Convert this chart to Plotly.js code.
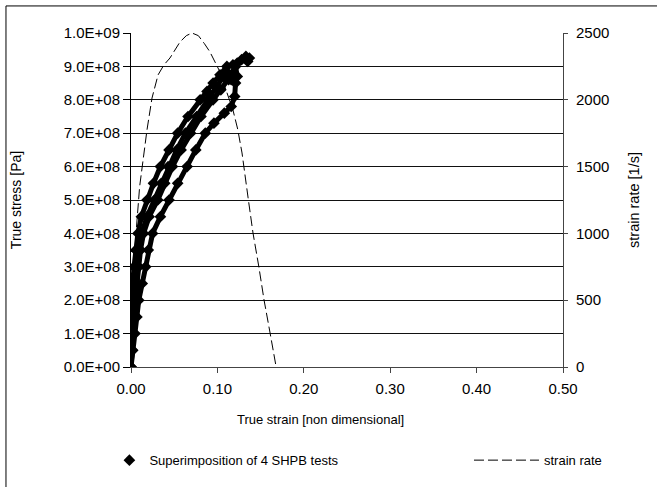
<!DOCTYPE html>
<html>
<head>
<meta charset="utf-8">
<script src="https://cdn.plot.ly/plotly-3.0.1.min.js"></script>
<style>
html,body{margin:0;padding:0;background:#fff;}
#chart{width:657px;height:487px;}
</style>
</head>
<body>
<div id="chart"></div>
<script>
// ---- data ----
// four SHPB tests: true strain [-] vs true stress [Pa]
const strainA = [0,0.0003,0.0006,0.0008,0.001,0.002,0.0035,0.0055,0.008,0.012,0.0185,0.026,0.034,0.044,0.054,0.066,0.080,0.088,0.095,0.103,0.111,0.118,0.123,0.128,0.133,0.137,0.135];
const stressA = [0,0.5e8,1.0e8,1.5e8,2.0e8,2.5e8,3.0e8,3.5e8,4.0e8,4.5e8,5.0e8,5.5e8,6.0e8,6.5e8,7.0e8,7.5e8,8.0e8,8.25e8,8.5e8,8.75e8,9.0e8,9.05e8,9.1e8,9.2e8,9.3e8,9.25e8,9.15e8];
const strainB = [0,0.0009,0.0018,0.0028,0.004,0.0058,0.0078,0.0098,0.0125,0.0185,0.027,0.035,0.043,0.053,0.063,0.076,0.089,0.099,0.107,0.112,0.116];
const stressB = [0,0.5e8,1.0e8,1.5e8,2.0e8,2.5e8,3.0e8,3.5e8,4.0e8,4.5e8,5.0e8,5.5e8,6.0e8,6.5e8,7.0e8,7.5e8,8.0e8,8.35e8,8.7e8,8.8e8,8.6e8];
const strainC = [0,0.0012,0.0023,0.0035,0.005,0.007,0.009,0.011,0.0145,0.021,0.031,0.039,0.048,0.058,0.069,0.081,0.095,0.104,0.113,0.118,0.121,0.123];
const stressC = [0,0.5e8,1.0e8,1.5e8,2.0e8,2.5e8,3.0e8,3.5e8,4.0e8,4.5e8,5.0e8,5.5e8,6.0e8,6.5e8,7.0e8,7.5e8,8.0e8,8.3e8,8.6e8,8.8e8,9.0e8,8.7e8];
const strainD = [0,0.002,0.0046,0.0068,0.009,0.013,0.017,0.020,0.025,0.034,0.044,0.054,0.065,0.075,0.086,0.096,0.108,0.116,0.120,0.121,0.119];
const stressD = [0,0.5e8,1.0e8,1.5e8,2.0e8,2.5e8,3.0e8,3.5e8,4.0e8,4.5e8,5.0e8,5.5e8,6.0e8,6.5e8,7.0e8,7.3e8,7.6e8,7.8e8,8.1e8,8.5e8,8.7e8];

// strain rate [1/s] vs true strain
const rateStrain = [0,0.0025,0.0058,0.010,0.0145,0.0185,0.0243,0.0313,0.038,0.0451,0.0567,0.064,0.0706,0.078,0.085,0.0914,0.1019,0.110,0.118,0.1235,0.1285,0.1354,0.1412,0.148,0.154,0.161,0.168];
const rateValues = [0,450,1003,1350,1600,1774,2013,2186,2260,2313,2433,2480,2500,2480,2420,2358,2223,2080,1924,1780,1602,1272,1003,749,501,254,0];

// tick labels
const stressTickVals = [0,1e8,2e8,3e8,4e8,5e8,6e8,7e8,8e8,9e8,1e9];
const stressTickText = ["0.0E+00","1.0E+08","2.0E+08","3.0E+08","4.0E+08","5.0E+08","6.0E+08","7.0E+08","8.0E+08","9.0E+08","1.0E+09"];
const strainTickVals = [0,0.1,0.2,0.3,0.4,0.5];
const strainTickText = ["0.00","0.10","0.20","0.30","0.40","0.50"];
const rateTickVals = [0,500,1000,1500,2000,2500];

const legendStress = "Superimposition of 4 SHPB tests";
const legendRate = "strain rate";

// ---- traces ----
const tests = [[strainA,stressA],[strainB,stressB],[strainC,stressC],[strainD,stressD]];
const traces = [];
tests.forEach(function(t){
  traces.push({x:t[0], y:t[1], type:'scatter', mode:'lines', showlegend:false, hoverinfo:'skip',
    line:{color:'#000', width:5}, xaxis:'x', yaxis:'y'});
});
tests.forEach(function(t,i){
  traces.push({x:t[0], y:t[1], type:'scatter', mode:'markers', name:legendStress,
    showlegend: i===0, legendgroup:'tests',
    marker:{symbol:'diamond', size:9, color:'#000'}, xaxis:'x', yaxis:'y'});
});
traces.push({x:rateStrain, y:rateValues, type:'scatter', mode:'lines', name:legendRate,
  legend:'legend2',
  line:{color:'#000', width:1, dash:'10px,4px'}, xaxis:'x', yaxis:'y2'});

const FAM = '"Liberation Sans", Arial, sans-serif';
const font = {family:FAM, size:13, color:'#000'};
const tickFont = {family:FAM, size:15, color:'#000'};
const titleFont = {family:FAM, size:14, color:'#000'};

const layout = {
  width:657, height:487,
  margin:{l:131, r:94, t:33, b:120, autoexpand:false},
  paper_bgcolor:'#fff', plot_bgcolor:'#fff',
  font:font,
  showlegend:true,
  xaxis:{
    range:[0,0.5], tickvals:strainTickVals, ticktext:strainTickText,
    showgrid:false, zeroline:false, showline:true, linecolor:'#444', linewidth:1,
    ticks:'outside', ticklen:5, tickcolor:'#444', tickfont:tickFont, ticklabelstandoff:3
  },
  yaxis:{
    range:[0,1e9], tickvals:stressTickVals, ticktext:stressTickText,
    showgrid:true, gridcolor:'#111', gridwidth:1, zeroline:false,
    showline:true, linecolor:'#000', linewidth:1,
    ticks:'outside', ticklen:7, tickcolor:'#000', tickfont:tickFont,
    title:{text:'True stress [Pa]', font:titleFont, standoff:38}
  },
  yaxis2:{
    range:[0,2500], tickvals:rateTickVals, overlaying:'y', side:'right', anchor:'x',
    showgrid:false, zeroline:false, showline:true, linecolor:'#444', linewidth:1,
    ticks:'outside', ticklen:4, tickcolor:'#444', tickfont:tickFont, ticklabelstandoff:5,
    title:{text:'strain rate [1/s]', font:{family:FAM, size:14.5, color:'#000'}, standoff:20}
  },
  legend:{orientation:'h', x:-0.05, xanchor:'left', y:-0.279, yanchor:'middle',
    font:font, bgcolor:'rgba(0,0,0,0)'},
  legend2:{orientation:'h', x:0.7824, xanchor:'left', y:-0.279, yanchor:'middle',
    font:font, bgcolor:'rgba(0,0,0,0)', itemwidth:65},
  annotations:[{text:'True strain [non dimensional]', xref:'paper', yref:'paper',
    x:0.4375, y:-0.1557, xanchor:'center', yanchor:'middle', showarrow:false,
    font:{family:FAM, size:13, color:'#000'}}],
  shapes:[{type:'line', xref:'paper', yref:'paper', x0:-0.2894, x1:-0.2894, y0:1.081, y1:-0.5,
      line:{color:'#000', width:1}},
    {type:'line', xref:'paper', yref:'paper', x0:-0.2894, x1:1.3, y0:1.081, y1:1.081,
      line:{color:'#000', width:1}}]
};

Plotly.newPlot('chart', traces, layout, {displayModeBar:false, staticPlot:true});
</script>
</body>
</html>
